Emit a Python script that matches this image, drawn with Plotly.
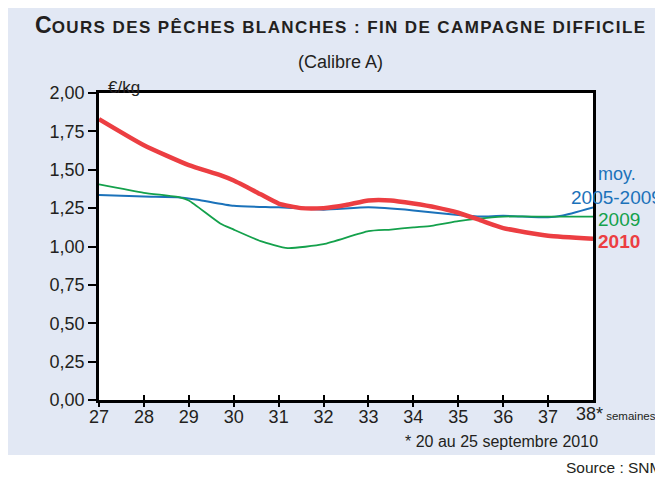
import plotly.graph_objects as go

# ---- data ----
weeks_2010 = [27, 28, 29, 29.7, 30, 30.6, 31, 31.5, 32, 32.5, 33, 33.5, 34, 34.5, 35, 35.5, 36, 37, 38]
vals_2010 = [1.83, 1.66, 1.53, 1.465, 1.43, 1.34, 1.28, 1.25, 1.25, 1.27, 1.30, 1.30, 1.28, 1.255, 1.22, 1.17, 1.12, 1.07, 1.05]

weeks_avg = [27, 28, 28.8, 29.2, 30, 31, 32, 33, 34, 35, 35.5, 36, 37, 37.3, 38]
vals_avg = [1.335, 1.325, 1.32, 1.305, 1.265, 1.255, 1.24, 1.255, 1.235, 1.205, 1.195, 1.20, 1.19, 1.20, 1.255]

weeks_2009 = [27, 28, 28.8, 29, 29.7, 30, 30.6, 31.2, 32, 33, 33.5, 34, 34.4, 35, 35.4, 36, 37, 38]
vals_2009 = [1.405, 1.35, 1.32, 1.30, 1.15, 1.11, 1.035, 0.99, 1.015, 1.10, 1.11, 1.125, 1.135, 1.165, 1.18, 1.195, 1.195, 1.195]

x_ticks = [27, 28, 29, 30, 31, 32, 33, 34, 35, 36, 37, 38]
x_labels = ["27", "28", "29", "30", "31", "32", "33", "34", "35", "36", "37", "38*"]
y_ticks = [0, 0.25, 0.5, 0.75, 1.0, 1.25, 1.5, 1.75, 2.0]
y_labels = ["0,00", "0,25", "0,50", "0,75", "1,00", "1,25", "1,50", "1,75", "2,00"]

RED = "#EC3E42"
BLUE = "#1B72BA"
GREEN = "#14A14C"
TXT = "#231F20"
BG = "#E2E8F4"
FONT = "Liberation Sans, Arial, sans-serif"

# page body has an 8px default margin: build the figure 8px smaller and
# express reference pixel positions minus that offset
OFF = 8
W, H = 663 - OFF, 477 - OFF
L, T = 99 - OFF, 93 - OFF
R = W - (593 - OFF)
B = H - (400 - OFF)
PW, PH = W - L - R, H - T - B


def px(x):
    return (x - OFF - L) / PW


def py(y):
    return (H - B - (y - OFF)) / PH


fig = go.Figure()
fig.add_trace(go.Scatter(x=weeks_avg, y=vals_avg, mode="lines",
                         line=dict(color=BLUE, width=2, shape="spline", smoothing=0.5)))
fig.add_trace(go.Scatter(x=weeks_2009, y=vals_2009, mode="lines",
                         line=dict(color=GREEN, width=1.8, shape="spline", smoothing=0.5)))
fig.add_trace(go.Scatter(x=weeks_2010, y=vals_2010, mode="lines",
                         line=dict(color=RED, width=4.5, shape="spline", smoothing=0.5)))
# invisible trace to create the overlay axis carrying the inner tick halves
fig.add_trace(go.Scatter(x=[], y=[], xaxis="x2", showlegend=False))

fig.update_layout(
    width=W, height=H,
    margin=dict(l=L, r=R, t=T, b=B),
    paper_bgcolor="white",
    plot_bgcolor="white",
    showlegend=False,
    font=dict(family=FONT, color=TXT, size=18),
    xaxis=dict(range=[27, 38], tickvals=x_ticks[:-1], ticktext=x_labels[:-1],
               ticks="outside", ticklen=4, tickwidth=1.5, tickcolor="black",
               ticklabelstandoff=-5,
               showline=True, linecolor="black", linewidth=2.5, mirror=True,
               showgrid=False, zeroline=False,
               tickfont=dict(size=18, color=TXT)),
    xaxis2=dict(range=[27, 38], overlaying="x", anchor="y", side="bottom",
                tickvals=x_ticks, ticks="inside", ticklen=5, tickwidth=1.5,
                tickcolor="black", showticklabels=False, showline=False,
                showgrid=False, zeroline=False),
    yaxis=dict(range=[0, 2], tickvals=y_ticks, ticktext=y_labels,
               ticks="outside", ticklen=8, tickwidth=1.5, tickcolor="black",
               showline=True, linecolor="black", linewidth=2.5, mirror=True,
               showgrid=False, zeroline=False,
               tickfont=dict(size=18, color=TXT)),
    shapes=[
        dict(type="rect", xref="paper", yref="paper", layer="below",
             x0=px(7), x1=px(680), y0=py(455), y1=py(-10),
             fillcolor=BG, line=dict(width=0)),
        dict(type="rect", xref="paper", yref="paper", layer="below",
             x0=0, x1=1, y0=0, y1=1, fillcolor="white", line=dict(width=0)),
    ],
)

title_txt = ("<b><span style='font-size:23px'>C</span>"
             "<span style='letter-spacing:1.4px'>OURS DES PÊCHES BLANCHES : FIN DE CAMPAGNE DIFFICILE</span></b>")

ann = [
    dict(text=title_txt, x=px(340), y=py(25), font=dict(size=17, color=TXT),
         xanchor="center", yanchor="middle"),
    dict(text="(Calibre A)", x=px(340), y=py(62), font=dict(size=18, color=TXT),
         xanchor="center", yanchor="middle"),
    dict(text="€/kg", x=px(106), y=py(87), font=dict(size=17, color=TXT),
         xanchor="left", yanchor="middle"),
    dict(text=x_labels[-1] + "<span style='font-size:11.5px'> semaines</span>",
         x=px(574), y=py(414), font=dict(size=18, color=TXT),
         xanchor="left", yanchor="middle"),
    dict(text="* 20 au 25 septembre 2010", x=px(501), y=py(441),
         font=dict(size=16, color=TXT), xanchor="center", yanchor="middle"),
    dict(text="Source : SNM", x=px(664), y=py(467),
         font=dict(size=15.5, color=TXT), xanchor="right", yanchor="middle"),
    dict(text="moy.", x=px(596), y=py(174), font=dict(size=18, color=BLUE),
         xanchor="left", yanchor="middle"),
    dict(text="2005-2009", x=px(569), y=py(197), font=dict(size=19, color=BLUE),
         xanchor="left", yanchor="middle"),
    dict(text="2009", x=px(596), y=py(219), font=dict(size=19, color=GREEN),
         xanchor="left", yanchor="middle"),
    dict(text="<b>2010</b>", x=px(596), y=py(241), font=dict(size=19, color=RED),
         xanchor="left", yanchor="middle"),
]
for a in ann:
    a.update(xref="paper", yref="paper", showarrow=False)
fig.update_layout(annotations=ann)

fig.write_html("out.html")
